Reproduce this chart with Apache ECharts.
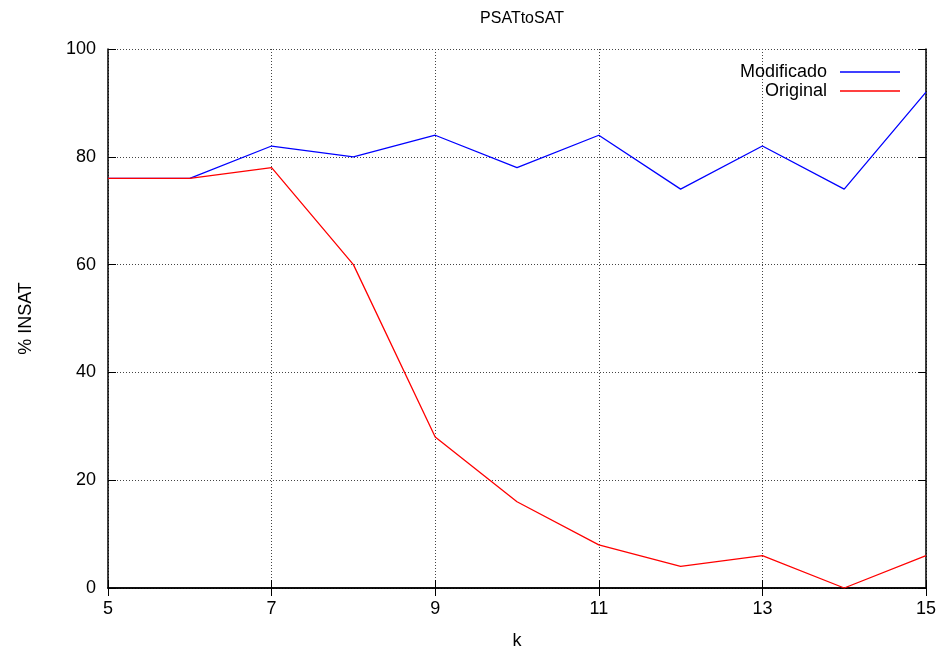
<!DOCTYPE html>
<html><head><meta charset="utf-8">
<script src="https://cdn.jsdelivr.net/npm/echarts@6/dist/echarts.min.js"></script>
<style>html,body{margin:0;padding:0;background:#fff}#c{width:943px;height:655px}</style>
</head><body><div id="c"></div>
<script>
const kValues = ['5','6','7','8','9','10','11','12','13','14','15'];
const modificado = [76,76,82,80,84,78,84,74,82,74,92];
const original = [76,76,78,60,28,16,8,4,6,0,6];
const titleText = 'PSATtoSAT';
const xName = 'k';
const yName = '% INSAT';

const F = 'Liberation Sans, Arial, Helvetica, sans-serif';
const chart = echarts.init(document.getElementById('c'), null, {renderer:'canvas'});
const axisLine = {show:true, lineStyle:{color:'#000', width:1.5}};
chart.setOption({
  animation:false,
  backgroundColor:'#fff',
  title:{text:titleText, left:517, top:6, textAlign:'center',
    textStyle:{fontFamily:F, fontSize:16, fontWeight:'normal', color:'#000'}},
  legend:{
    orient:'vertical', right:38, top:58, align:'right',
    icon:'rect', itemWidth:60, itemHeight:1.5, itemGap:1,
    textStyle:{fontFamily:F, fontSize:18, color:'#000', padding:[0,8,0,0]},
    data:['Modificado','Original']
  },
  grid:{left:108, right:17, top:49, bottom:66, containLabel:false},
  xAxis:[{
    type:'category', data:kValues, boundaryGap:false, position:'bottom',
    name:xName, nameLocation:'middle', nameGap:44,
    nameTextStyle:{fontFamily:F, fontSize:18, color:'#000'},
    axisLine:axisLine,
    axisTick:{show:true, inside:true, interval:1, length:8, lineStyle:{color:'#000'}},
    axisLabel:{interval:1, fontFamily:F, fontSize:18, color:'#000', margin:12},
    splitLine:{show:true, interval:1, lineStyle:{color:'#444', type:[1,2], width:1}}
  },{
    type:'category', data:kValues, boundaryGap:false, position:'top',
    axisLine:axisLine,
    axisTick:{show:true, inside:true, interval:1, length:8, lineStyle:{color:'#000'}},
    axisLabel:{show:false}, splitLine:{show:false}
  }],
  yAxis:[{
    type:'value', min:0, max:100, interval:20, position:'left',
    name:yName, nameLocation:'middle', nameGap:73, nameRotate:90,
    nameTextStyle:{fontFamily:F, fontSize:18, color:'#000'},
    axisLine:axisLine,
    axisTick:{show:true, inside:true, length:8, lineStyle:{color:'#000'}},
    axisLabel:{fontFamily:F, fontSize:18, color:'#000', margin:12},
    splitLine:{show:true, lineStyle:{color:'#444', type:[1,2], width:1}}
  },{
    type:'value', min:0, max:100, interval:20, position:'right',
    axisLine:axisLine,
    axisTick:{show:true, inside:true, length:8, lineStyle:{color:'#000'}},
    axisLabel:{show:false}, splitLine:{show:false}
  }],
  series:[
    {name:'Modificado', type:'line', data:modificado, symbol:'none',
     lineStyle:{color:'#0000ff', width:1.3}, itemStyle:{color:'#0000ff'}},
    {name:'Original', type:'line', data:original, symbol:'none',
     lineStyle:{color:'#ff0000', width:1.3}, itemStyle:{color:'#ff0000'}}
  ]
});
</script></body></html>
